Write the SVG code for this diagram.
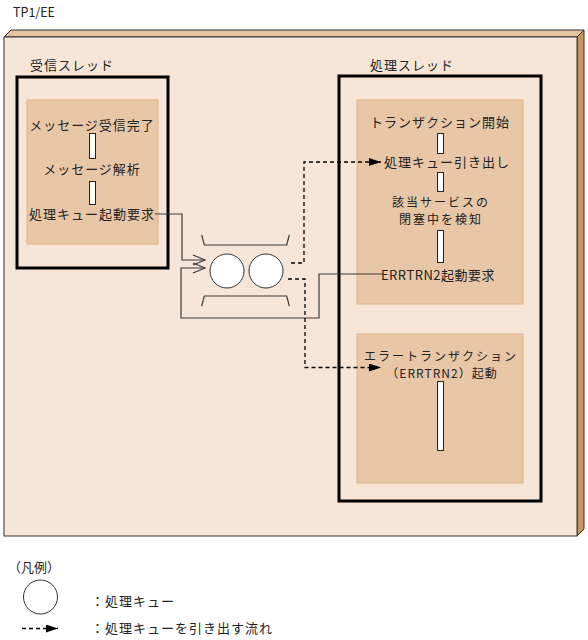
<svg xmlns="http://www.w3.org/2000/svg" width="588" height="640" viewBox="0 0 588 640">
<style>
text{font-family:"Noto Sans CJK JP","Noto Sans",sans-serif;font-size:13px;fill:#222;letter-spacing:1px}
.c{text-anchor:middle}
.s{font-size:12px;letter-spacing:2px}
.thread{fill:none;stroke:#000;stroke-width:3}
.panel{fill:#E8C7A6;stroke:#DDB48C;stroke-width:1}
.bar{fill:#fff;stroke:#222;stroke-width:1}
.q{fill:#fff;stroke:#333;stroke-width:1}
.ln{fill:none;stroke:#3a3a3a;stroke-width:1.2}
.dash{fill:none;stroke:#000;stroke-width:1.3;stroke-dasharray:4 3}
</style>
<defs>
<marker id="tri" markerWidth="12" markerHeight="8" refX="12" refY="4" orient="auto" markerUnits="userSpaceOnUse">
<path d="M0,0 L12,4 L0,8 Z" fill="#000"/>
</marker>
</defs>
<rect width="588" height="640" fill="#fff"/>
<text x="13" y="17" style="font-size:12.5px;letter-spacing:0">TP1/EE</text>
<g id="container">
<polygon points="4,37 11,30 584,30 577,37" fill="#E6C3A0" stroke="#333" stroke-width="1"/>
<polygon points="577,37 584,30 584,529 577,536" fill="#C8935F" stroke="#333" stroke-width="1"/>
<rect x="4" y="37" width="573" height="499" fill="#F7E6D7" stroke="#333" stroke-width="1"/>
</g>
<g id="recv-thread">
<text x="30" y="70">受信スレッド</text>
<rect class="thread" x="17" y="77" width="151" height="191"/>
<rect class="panel" x="27" y="100" width="131" height="144"/>
<text class="c" x="92" y="130">メッセージ受信完了</text>
<rect class="bar" x="89.5" y="133.5" width="6" height="25"/>
<text class="c" x="92" y="174">メッセージ解析</text>
<rect class="bar" x="89.5" y="181.5" width="6" height="23"/>
<text class="c" x="92" y="219">処理キュー起動要求</text>
</g>
<g id="proc-thread">
<text x="370" y="70">処理スレッド</text>
<rect class="thread" x="339" y="76" width="202" height="425"/>
<rect class="panel" x="357" y="100" width="166" height="204"/>
<text class="c" x="440" y="127">トランザクション開始</text>
<rect class="bar" x="437.5" y="133.5" width="6" height="20"/>
<text class="c" x="447" y="167">処理キュー引き出し</text>
<rect class="bar" x="437.5" y="172.5" width="6" height="19"/>
<text class="c s" x="441" y="206.5">該当サービスの</text>
<text class="c s" x="441" y="224">閉塞中を検知</text>
<rect class="bar" x="437.5" y="230.5" width="6" height="32"/>
<text class="c" x="438" y="280" style="letter-spacing:0.5px">ERRTRN2起動要求</text>
</g>
<g id="err-tx">
<rect class="panel" x="357" y="334" width="166" height="149"/>
<text class="c s" x="441" y="360.5">エラートランザクション</text>
<text class="c" x="442" y="378" style="font-size:12px;letter-spacing:1px">（ERRTRN2）起動</text>
<rect class="bar" x="437.5" y="381.5" width="6" height="69"/>
</g>
<g id="queue">
<path class="ln" d="M201.7,235 L204.3,245 H286.7 L289.3,235"/>
<path class="ln" d="M201.7,306 L204.3,296 H286.7 L289.3,306"/>
<circle class="q" cx="227" cy="271" r="17"/>
<circle class="q" cx="266" cy="271" r="17"/>
</g>
<g id="connectors">
<path class="ln" d="M155,214 H182 V260 H205"/>
<path class="ln" d="M193,255 L205,260 L193,265"/>
<path class="ln" d="M383,274 H319 V318 H181 V268 H205"/>
<path class="ln" d="M193,263 L205,268 L193,273"/>
<path class="dash" d="M291,263 H304 V162 H381" marker-end="url(#tri)"/>
<path class="dash" d="M288,279 H305 V367.5 H381" marker-end="url(#tri)"/>
</g>
<g id="legend">
<text x="8" y="572" style="letter-spacing:0">（凡例）</text>
<circle class="q" cx="40.5" cy="597" r="17"/>
<text x="91" y="606">：処理キュー</text>
<path class="dash" d="M22,628.5 H58" marker-end="url(#tri)"/>
<text x="91" y="633">：処理キューを引き出す流れ</text>
</g>
</svg>
